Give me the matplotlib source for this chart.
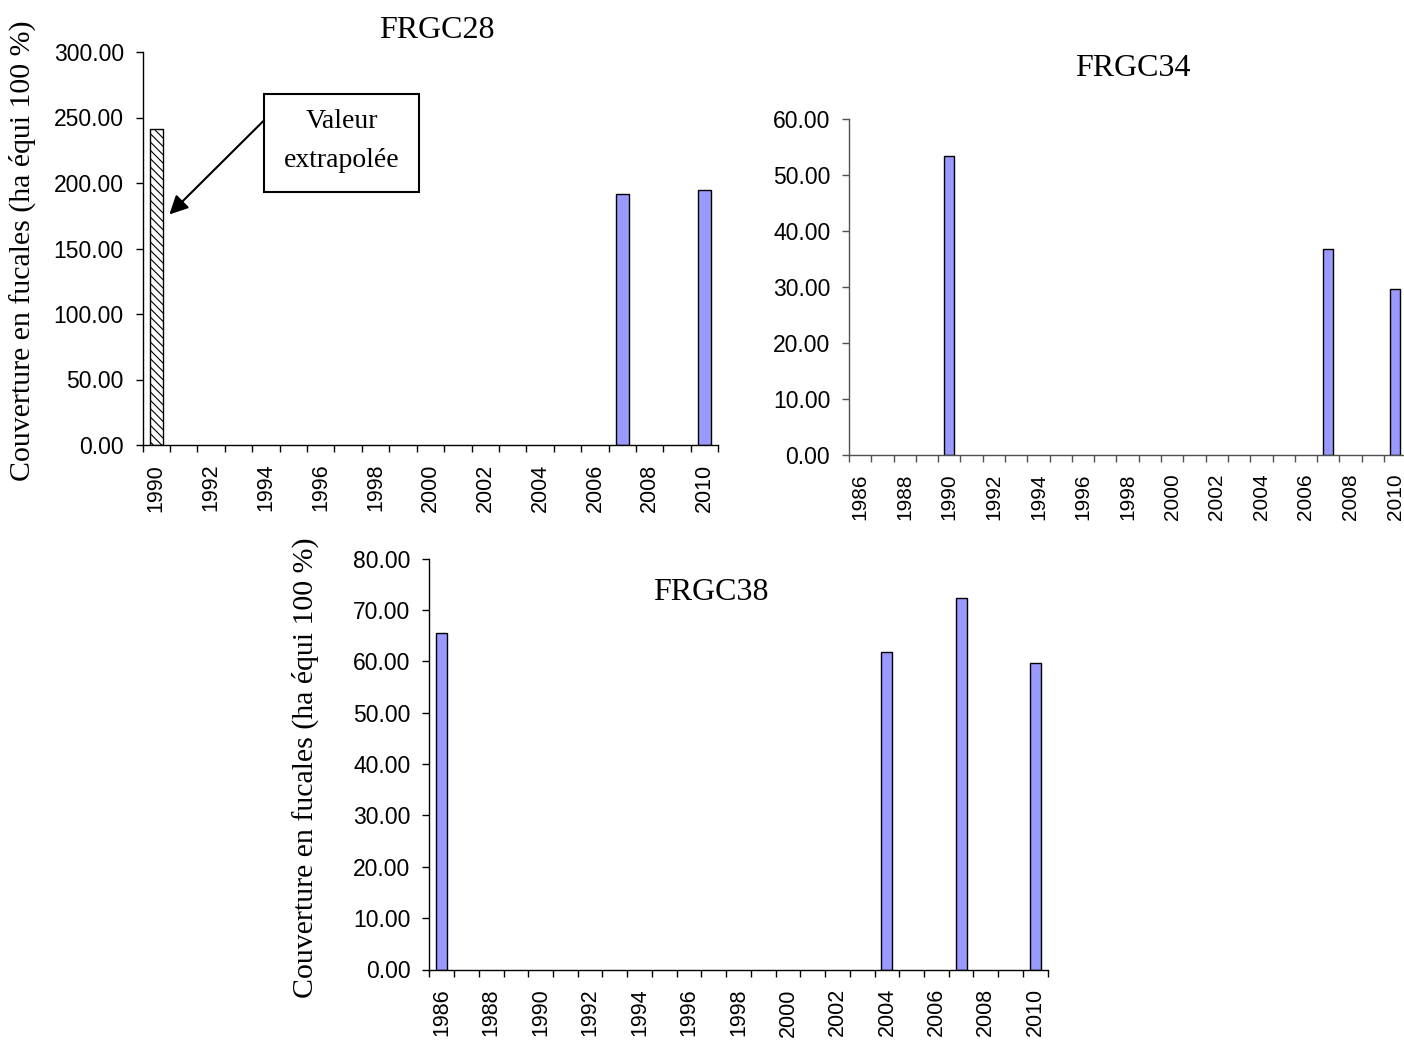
import matplotlib
matplotlib.use('Agg')
import matplotlib.pyplot as plt
import numpy as np
from matplotlib.patches import Rectangle
from matplotlib.ticker import FormatStrFormatter

# ---------------- data ----------------
title28 = "FRGC28"
years28_range = (1990, 2010)
years28 = [1990, 2007, 2010]
values28 = [241.5, 191.5, 194.5]
extrapolated28 = [True, False, False]

title34 = "FRGC34"
years34_range = (1986, 2010)
years34 = [1990, 2007, 2010]
values34 = [53.4, 36.8, 29.7]

title38 = "FRGC38"
years38_range = (1986, 2010)
years38 = [1986, 2004, 2007, 2010]
values38 = [65.6, 61.8, 72.3, 59.7]

ylabel = "Couverture en fucales (ha équi 100 %)"
annot_text = "Valeur\nextrapolée"

# ---------------- style ----------------
plt.rcParams['font.family'] = ['Liberation Sans', 'DejaVu Sans']
plt.rcParams['hatch.linewidth'] = 0.8
SERIF = ['Liberation Serif', 'DejaVu Serif']
BAR = '#9999FF'

W, H = 1404, 1043
fig = plt.figure(figsize=(W / 100, H / 100), dpi=100)


def px_axes(l, t, r, b):
    return fig.add_axes([l / W, 1 - b / H, (r - l) / W, (b - t) / H])


def setup(ax, yr, ymax, ystep, color='black', xsize=15.5):
    first, last = yr
    n = last - first + 1
    ax.set_xlim(-0.5, n - 0.5)
    ax.set_ylim(0, ymax)
    for s in ('top', 'right'):
        ax.spines[s].set_visible(False)
    for s in ('left', 'bottom'):
        ax.spines[s].set_color(color)
        ax.spines[s].set_linewidth(1.0)
    ax.set_xticks(np.arange(n + 1) - 0.5)
    ax.set_xticklabels([])
    ax.tick_params(axis='x', which='major', direction='out', length=5,
                   width=1.0, color=color)
    lab_years = [y for y in range(first, last + 1) if y % 2 == 0]
    ax.set_xticks([y - first for y in lab_years], [str(y) for y in lab_years],
                  minor=True)
    ax.tick_params(axis='x', which='minor', length=0, pad=13.5,
                   labelrotation=90, labelsize=xsize)
    ax.set_yticks(np.arange(0, ymax + ystep / 2, ystep))
    ax.yaxis.set_major_formatter(FormatStrFormatter('%.2f'))
    ax.tick_params(axis='y', direction='out', length=5, width=1.0,
                   color=color, labelsize=16.5, pad=8.5)
    ax.patch.set_alpha(0)
    return first


# Panel FRGC28
ax1 = px_axes(142.5, 52, 718.3, 445)
f1 = setup(ax1, years28_range, 300, 50)
for y, v, ex in zip(years28, values28, extrapolated28):
    if ex:
        ax1.bar(y - f1, v, width=0.47, color='white', edgecolor='black',
                linewidth=1.0, hatch='\\\\\\\\')
    else:
        ax1.bar(y - f1, v, width=0.45, color=BAR, edgecolor='black',
                linewidth=1.0)

# annotation box and arrow (positions in data coordinates of ax1)
ax1.add_patch(Rectangle((3.94, 193.4), 9.57 - 3.94, 267.7 - 193.4,
                        facecolor='white', edgecolor='black', linewidth=1.5,
                        clip_on=False, zorder=5))
ax1.text(6.76, 232, annot_text, ha='center', va='center', fontsize=20,
         family=SERIF, linespacing=1.7, zorder=6)
ax1.annotate('', xy=(0.48, 176), xytext=(3.94, 248),
             arrowprops=dict(arrowstyle='-|>', color='black', lw=1.5,
                             mutation_scale=28, shrinkA=0, shrinkB=0),
             annotation_clip=False, zorder=6)

# Panel FRGC34
ax2 = px_axes(849, 119.3, 849 + 25 * 22.29, 455)
f2 = setup(ax2, years34_range, 60, 10, color='#505050', xsize=15)
ax2.bar([y - f2 for y in years34], values34, width=0.45, color=BAR,
        edgecolor='black', linewidth=1.0)

# Panel FRGC38
ax3 = px_axes(429.3, 558.7, 1047.7, 969.5)
f3 = setup(ax3, years38_range, 80, 10)
ax3.bar([y - f3 for y in years38], values38, width=0.45, color=BAR,
        edgecolor='black', linewidth=1.0)

# titles
fig.text(437 / W, 1 - 31 / H, title28, ha='center', va='center',
         fontsize=23, family=SERIF)
fig.text(1133 / W, 1 - 69 / H, title34, ha='center', va='center',
         fontsize=23, family=SERIF)
fig.text(711 / W, 1 - 593 / H, title38, ha='center', va='center',
         fontsize=23, family=SERIF)

# y labels
fig.text(22 / W, 1 - 251 / H, ylabel, rotation=90, ha='center', va='center',
         fontsize=21.5, family=SERIF)
fig.text(305 / W, 1 - 768 / H, ylabel, rotation=90, ha='center', va='center',
         fontsize=21.5, family=SERIF)

fig.savefig('out.png', dpi=100)
